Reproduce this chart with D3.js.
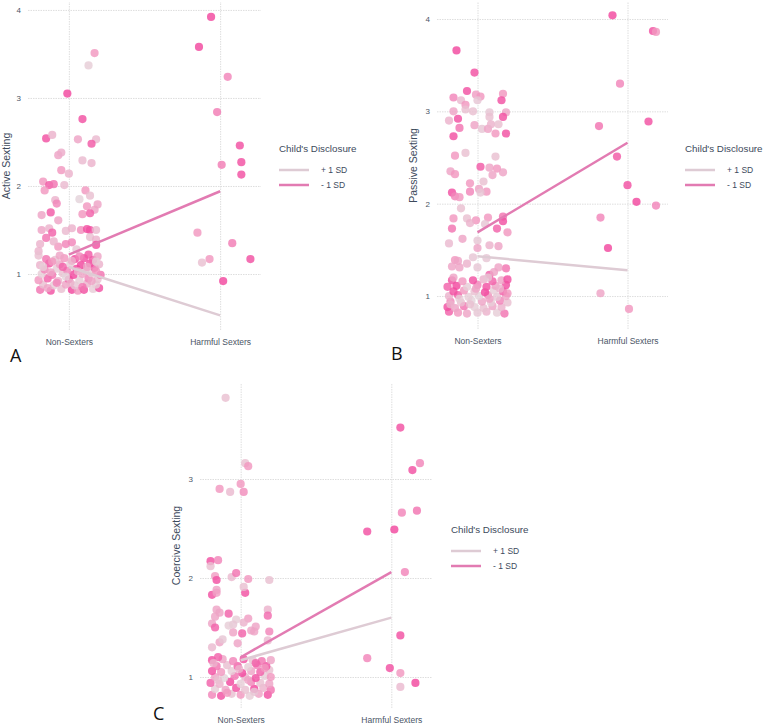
<!DOCTYPE html>
<html>
<head>
<meta charset="utf-8">
<script src="https://cdn.jsdelivr.net/npm/d3@7"></script>
<style>
  body { margin: 0; background: #fff; }
  text { font-family: "Liberation Sans", Arial, sans-serif; }
</style>
</head>
<body>
<div id="chart"></div>
<script>
// categories and labels
var categories = ["Non-Sexters", "Harmful Sexters"];
var ticksAB = [1, 2, 3, 4];
var ticksC = [1, 2, 3];
var legendLabels = ["+ 1 SD", "- 1 SD"];
var legendTitle = "Child's Disclosure";

// points: [jitter, score, disclosure (0 = low / pink, 1 = high / light)]
var activeNS = [
  [0.17,3.51,0.5],[0.13,3.37,0.9],[-0.01,3.05,0.05],[0.09,2.76,0.1],[-0.15,2.54,0.1],[-0.11,2.58,0.7],
  [0.06,2.53,0.6],[0.18,2.53,0.75],[0.15,2.48,0.15],[-0.07,2.35,0.6],[-0.05,2.38,0.65],[0.09,2.29,0.75],
  [0.15,2.26,0.7],[-0.05,2.18,0.5],[0.0,2.14,0.7],[-0.17,2.05,0.5],[-0.13,2.01,0.15],[-0.1,2.02,0.3],
  [-0.03,2.01,0.75],[-0.16,1.95,0.5],[0.11,1.95,0.5],[0.14,1.89,0.8],[0.07,1.85,0.95],[-0.09,1.84,0.7],
  [-0.08,1.8,0.4],[0.19,1.79,0.6],[0.12,1.77,0.5],[0.17,1.73,0.6],[-0.12,1.7,0.15],[-0.18,1.67,0.6],
  [0.09,1.68,0.5],[0.14,1.69,0.2],[-0.07,1.61,0.6],[-0.18,1.5,0.6],[-0.13,1.52,0.7],[-0.11,1.47,0.2],
  [-0.02,1.49,0.75],[0.02,1.52,0.7],[0.08,1.5,0.45],[0.12,1.51,0.1],[0.14,1.5,0.1],[0.18,1.5,0.75],
  [0.14,1.42,0.8],[-0.15,1.41,0.3],[0.18,1.39,0.7],[-0.19,1.34,0.7],[-0.02,1.34,0.4],[0.02,1.36,0.4],
  [-0.07,1.31,0.5],[0.18,1.33,0.1],[-0.1,1.37,0.7],[-0.2,1.26,0.7],[0.05,1.28,0.85],
  [-0.19,0.82,0.3],[-0.12,0.81,0.1],[-0.05,0.83,0.8],[0.02,0.82,0.05],[0.06,0.81,0.5],[0.1,0.82,0.1],
  [0.16,0.83,0.9],[0.2,0.84,0.1],[-0.17,0.88,0.8],[-0.1,0.87,0.9],[-0.02,0.88,0.6],[0.04,0.87,0.85],
  [0.12,0.89,0.7],[0.18,0.88,0.9],[-0.2,0.93,0.5],[-0.14,0.95,0.2],[-0.07,0.92,0.7],[0.0,0.94,0.1],
  [0.07,0.93,0.9],[0.13,0.95,0.4],[0.19,0.94,0.8],[-0.18,1.0,0.9],[-0.11,0.99,0.3],[-0.04,1.01,0.8],
  [0.03,0.99,0.05],[0.09,1.0,0.6],[0.15,1.01,0.9],[0.21,0.99,0.3],[-0.16,1.05,0.4],[-0.08,1.06,0.9],
  [-0.01,1.04,0.4],[0.05,1.06,0.1],[0.11,1.05,0.85],[0.17,1.07,0.2],[-0.19,1.1,0.7],[-0.13,1.12,0.1],
  [-0.06,1.11,0.6],[0.01,1.12,0.9],[0.08,1.1,0.05],[0.14,1.12,0.1],[0.2,1.11,0.7],[-0.15,1.17,0.3],
  [-0.09,1.16,0.8],[-0.03,1.18,0.5],[0.04,1.17,0.05],[0.1,1.18,0.1],[0.16,1.16,0.2],[-0.2,1.21,0.8],
  [-0.06,1.21,0.6],[0.07,1.2,0.4],[0.13,1.22,0.15],[0.19,1.2,0.6],[-0.14,0.84,0.6],[-0.08,0.9,0.4],
  [0.01,0.9,0.7],[0.09,0.85,0.3],[0.15,0.92,0.6],[-0.12,1.02,0.6],[-0.02,0.97,0.95],[0.06,1.03,0.7],
  [0.18,1.03,0.5],[-0.17,1.08,0.9],[-0.04,1.08,0.2],[0.12,1.08,0.6],[-0.11,1.14,0.5],[0.02,1.15,0.7],
  [0.18,1.14,0.9]
];
var activeHS = [
  [-0.06,3.92,0.05],[-0.14,3.58,0.05],[0.05,3.24,0.4],[-0.02,2.84,0.35],[0.13,2.46,0.1],[0.01,2.24,0.35],
  [0.14,2.27,0.1],[0.14,2.13,0.1],[-0.15,1.47,0.5],[0.08,1.35,0.35],[-0.07,1.17,0.5],[-0.12,1.13,0.8],
  [0.2,1.17,0.1],[0.02,0.92,0.05]
];
var passiveNS = [
  [-0.14,3.66,0.05],[-0.02,3.42,0.1],[-0.07,3.22,0.1],[-0.16,3.15,0.4],[-0.11,3.12,0.75],[-0.01,3.18,0.55],
  [0.02,3.16,0.5],[0.0,3.12,0.85],[0.17,3.19,0.5],[0.16,3.12,0.1],[-0.08,3.07,0.5],[-0.08,3.02,0.8],
  [-0.16,3.0,0.6],[-0.03,3.0,0.8],[0.08,2.99,0.85],[0.19,2.99,0.6],[-0.19,2.9,0.7],[-0.13,2.92,0.1],
  [0.08,2.94,0.8],[0.17,2.94,0.1],[-0.02,2.85,0.6],[-0.12,2.82,0.3],[0.03,2.81,0.85],[0.07,2.81,0.6],
  [0.09,2.86,0.7],[0.14,2.86,0.8],[0.12,2.76,0.5],[0.19,2.76,0.1],[-0.16,2.73,0.1],[-0.15,2.52,0.5],
  [-0.08,2.55,0.8],[0.12,2.51,0.8],[0.02,2.4,0.15],[-0.18,2.35,0.6],[-0.15,2.32,0.5],[0.08,2.39,0.6],
  [0.13,2.38,0.5],[0.1,2.31,0.6],[0.17,2.34,0.6],[0.04,2.24,0.8],[-0.05,2.22,0.5],[-0.17,2.12,0.1],
  [-0.05,2.13,0.4],[0.01,2.16,0.6],[0.06,2.13,0.5],[0.02,2.12,0.85],[-0.15,2.08,0.4],[-0.12,2.07,0.5],
  [-0.11,1.95,0.8],[-0.16,1.84,0.5],[-0.07,1.84,0.8],[-0.01,1.82,0.5],[0.07,1.85,0.5],[0.17,1.86,0.3],
  [0.17,1.81,0.1],[-0.17,1.73,0.3],[0.13,1.73,0.2],[0.2,1.69,0.5],[-0.05,1.79,0.7],[0.05,1.78,0.85],
  [-0.19,1.57,0.75],[-0.1,1.62,0.6],[0.0,1.6,0.85],[0.08,1.55,0.7],[0.14,1.54,0.6],[0.0,1.52,0.6],
  [-0.15,1.39,0.5],[-0.13,1.38,0.6],[-0.03,1.42,0.85],[0.06,1.41,0.85],[0.19,1.3,0.3],[-0.17,1.32,0.6],
  [-0.12,1.31,0.6],[0.0,1.31,0.85],[-0.07,1.35,0.7],[0.14,1.31,0.6],[0.08,1.23,0.2],[0.11,1.26,0.6],
  [-0.19,0.83,0.2],[-0.13,0.82,0.5],[-0.07,0.81,0.6],[0.0,0.82,0.85],[0.06,0.83,0.7],[0.13,0.82,0.9],
  [0.18,0.81,0.3],[-0.2,0.88,0.1],[-0.15,0.87,0.6],[-0.09,0.89,0.3],[-0.02,0.88,0.9],[0.04,0.87,0.8],
  [0.1,0.89,0.6],[0.16,0.88,0.7],[-0.18,0.94,0.4],[-0.11,0.93,0.8],[-0.04,0.95,0.95],[0.03,0.94,0.6],
  [0.09,0.93,0.9],[0.15,0.95,0.4],[0.2,0.93,0.8],[-0.19,1.0,0.7],[-0.13,1.01,0.2],[-0.06,0.99,0.9],
  [0.01,1.0,0.95],[0.07,1.01,0.5],[0.13,0.99,0.85],[0.19,1.0,0.6],[-0.16,1.05,0.1],[-0.09,1.06,0.5],
  [-0.02,1.05,0.8],[0.05,1.04,0.05],[0.11,1.06,0.9],[0.17,1.05,0.2],[-0.2,1.1,0.2],[-0.14,1.11,0.05],
  [-0.07,1.1,0.9],[0.0,1.12,0.4],[0.06,1.1,0.1],[0.12,1.11,0.6],[0.19,1.12,0.1],[-0.17,1.17,0.1],
  [-0.1,1.16,0.5],[-0.03,1.17,0.1],[0.04,1.18,0.7],[0.1,1.16,0.2],[0.16,1.17,0.6],[0.2,1.18,0.1],
  [-0.18,0.91,0.7],[-0.05,0.91,0.8],[0.08,0.97,0.6],[-0.12,0.97,0.9],[0.15,1.08,0.7],[-0.01,1.08,0.6],
  [0.2,1.03,0.5],[-0.16,1.2,0.6],[0.07,1.2,0.85]
];
var passiveHS = [
  [-0.1,4.04,0.05],[0.17,3.87,0.1],[0.19,3.86,0.5],[-0.05,3.3,0.4],[-0.19,2.84,0.3],[0.14,2.89,0.1],
  [-0.07,2.51,0.15],[0.0,2.2,0.1],[0.06,2.02,0.05],[0.19,1.98,0.4],[-0.18,1.85,0.4],[-0.13,1.52,0.05],
  [-0.18,1.03,0.6],[0.01,0.86,0.5]
];
var coerciveNS = [
  [-0.1,3.82,0.8],[0.03,3.16,0.8],[0.05,3.13,0.5],[-0.14,2.9,0.5],[0.0,2.95,0.5],[-0.07,2.87,0.75],
  [0.02,2.87,0.45],[-0.2,2.17,0.1],[-0.15,2.18,0.4],[-0.2,2.12,0.8],[-0.17,2.02,0.55],[-0.16,1.98,0.1],
  [-0.06,2.01,0.75],[-0.03,2.05,0.3],[0.05,1.99,0.5],[0.19,1.98,0.8],[-0.19,1.83,0.1],[-0.16,1.88,0.6],
  [-0.16,1.85,0.55],[0.03,1.85,0.1],[0.02,1.91,0.8],[-0.16,1.68,0.6],[-0.14,1.65,0.6],[-0.08,1.64,0.2],
  [-0.17,1.61,0.6],[0.18,1.68,0.7],[0.18,1.62,0.25],[0.05,1.59,0.55],[-0.03,1.58,0.9],[-0.19,1.54,0.6],
  [-0.17,1.5,0.2],[-0.05,1.53,0.85],[0.02,1.55,0.7],[0.07,1.47,0.6],[0.1,1.51,0.6],[0.09,1.46,0.6],
  [-0.05,1.45,0.6],[0.19,1.46,0.4],[0.01,1.44,0.2],[-0.14,1.35,0.6],[-0.02,1.34,0.6],[0.18,1.37,0.75],
  [-0.19,1.3,0.75],[-0.12,1.38,0.85],[-0.08,1.52,0.9],
  [-0.19,0.82,0.4],[-0.13,0.81,0.1],[-0.06,0.83,0.8],[0.0,0.82,0.5],[0.06,0.81,0.9],[0.12,0.83,0.6],
  [0.18,0.82,0.1],[-0.17,0.88,0.9],[-0.1,0.87,0.6],[-0.03,0.89,0.1],[0.03,0.87,0.8],[0.09,0.88,0.05],
  [0.15,0.89,0.7],[0.2,0.87,0.3],[-0.2,0.94,0.2],[-0.14,0.93,0.7],[-0.07,0.95,0.05],[0.0,0.93,0.9],
  [0.07,0.95,0.4],[0.13,0.94,0.8],[0.19,0.93,0.6],[-0.17,1.0,0.6],[-0.11,0.99,0.95],[-0.04,1.01,0.3],
  [0.03,1.0,0.7],[0.1,0.99,0.1],[0.16,1.01,0.9],[-0.19,1.06,0.1],[-0.13,1.05,0.5],[-0.06,1.06,0.9],
  [0.01,1.04,0.05],[0.07,1.06,0.6],[0.13,1.05,0.2],[0.19,1.07,0.8],[-0.16,1.11,0.3],[-0.09,1.12,0.8],
  [-0.02,1.11,0.2],[0.05,1.1,0.9],[0.11,1.12,0.4],[0.17,1.11,0.1],[-0.19,1.17,0.1],[-0.12,1.18,0.6],
  [-0.05,1.16,0.4],[0.02,1.18,0.1],[0.08,1.17,0.8],[0.14,1.16,0.3],[0.2,1.17,0.6],[-0.15,1.2,0.2],
  [-0.09,0.84,0.5],[0.09,0.85,0.85],[-0.15,0.97,0.8],[0.05,0.97,0.6],[-0.01,1.08,0.7],[0.16,1.09,0.5],
  [-0.18,1.14,0.7],[0.1,1.14,0.2],[0.2,1.0,0.5]
];
var coerciveHS = [
  [0.06,3.52,0.1],[0.14,3.09,0.1],[0.19,3.16,0.4],[0.07,2.66,0.4],[0.17,2.68,0.3],[0.02,2.49,0.05],
  [-0.16,2.47,0.1],[0.09,2.06,0.4],[0.06,1.42,0.1],[-0.16,1.19,0.4],[-0.01,1.09,0.1],[0.06,1.04,0.5],
  [0.06,0.9,0.75],[0.16,0.94,0.05]
];

// simple slopes at +1 SD and -1 SD disclosure: [Non-Sexters, Harmful Sexters]
var activePlus = [1.08, 0.53], activeMinus = [1.22, 1.94];
var passivePlus = [1.43, 1.28], passiveMinus = [1.69, 2.66];
var coercivePlus = [1.17, 1.60], coerciveMinus = [1.20, 2.06];

var svg = d3.select("#chart").append("svg")
    .attr("width", 767)
    .attr("height", 727);

var pointColor = d3.scaleLinear().domain([0, 0.5, 1])
    .range(["#f23f9b", "#f197c0", "#e3dadd"]);
var lineColors = ["#decbd4", "#e27bb2"];

function drawPanel(p) {
    var x = d3.scaleLinear().domain([-0.27, 1.27]).range([p.x0, p.x1]);
    var y = d3.scaleLinear().domain(p.yDomain).range([p.y1, p.y0]);
    var g = svg.append("g");

    // grid
    g.append("g").attr("transform", "translate(" + p.x0 + ",0)")
        .call(d3.axisLeft(y).tickValues(p.ticks).tickSize(-(p.x1 - p.x0)).tickFormat(""))
        .call(function(a) { a.select(".domain").remove(); })
        .selectAll("line").attr("stroke", "#dedede").attr("stroke-dasharray", "1.5,1");
    g.append("g").attr("transform", "translate(0," + p.y1 + ")")
        .call(d3.axisBottom(x).tickValues([0, 1]).tickSize(-(p.y1 - p.y0)).tickFormat(""))
        .call(function(a) { a.select(".domain").remove(); })
        .selectAll("line").attr("stroke", "#dedede").attr("stroke-dasharray", "1.5,1");

    // tick labels
    var ya = g.append("g").attr("transform", "translate(" + (p.x0 - 4) + ",0)")
        .call(d3.axisLeft(y).tickValues(p.ticks).tickSize(0).tickFormat(d3.format("d")));
    ya.select(".domain").remove();
    ya.selectAll("text").attr("fill", "#4a5566").style("font-size", "8px");

    var xa = g.append("g").attr("transform", "translate(0," + (p.y1 + 6) + ")")
        .call(d3.axisBottom(x).tickValues([0, 1]).tickSize(0).tickFormat(function(d) { return categories[d]; }));
    xa.select(".domain").remove();
    xa.selectAll("text").attr("fill", "#4a5566").style("font-size", "8.5px");

    // points
    var pts = p.ns.map(function(d) { return [d[0], d[1], d[2]]; })
        .concat(p.hs.map(function(d) { return [1 + d[0], d[1], d[2]]; }));
    g.append("g").selectAll("circle")
        .data(pts)
        .enter()
        .append("circle")
        .attr("cx", function(d) { return x(d[0]); })
        .attr("cy", function(d) { return y(d[1]); })
        .attr("r", 4.1)
        .attr("fill", function(d) { return pointColor(d[2]); })
        .attr("fill-opacity", 0.82);

    // slope lines
    var line = d3.line()
        .x(function(d, i) { return x(i); })
        .y(function(d) { return y(d); });
    [p.plus, p.minus].forEach(function(s, i) {
        g.append("path")
            .attr("d", line(s))
            .attr("fill", "none")
            .attr("stroke", lineColors[i])
            .attr("stroke-width", 2.5);
    });

    // axis title
    g.append("text")
        .attr("transform", "translate(" + p.titleX + "," + ((p.y0 + p.y1) / 2) + ") rotate(-90)")
        .attr("text-anchor", "middle")
        .attr("fill", "#3d4a5c")
        .style("font-size", "10.5px")
        .text(p.title);

    // legend
    var lg = g.append("g").attr("transform", "translate(" + p.lx + "," + p.ly + ")");
    lg.append("text")
        .attr("x", 0).attr("y", 0)
        .attr("fill", "#3d4a5c")
        .style("font-size", "9.8px")
        .text(legendTitle);
    legendLabels.forEach(function(l, i) {
        lg.append("line")
            .attr("x1", 0).attr("x2", 30)
            .attr("y1", 18 + i * 15).attr("y2", 18 + i * 15)
            .attr("stroke", lineColors[i])
            .attr("stroke-width", 2.5);
        lg.append("text")
            .attr("x", 42).attr("y", 21 + i * 15)
            .attr("fill", "#3d4a5c")
            .style("font-size", "8.5px")
            .text(l);
    });

    // panel letter
    g.append("text")
        .attr("x", p.letterX).attr("y", p.letterY)
        .attr("fill", "#111")
        .style("font-family", "'Open Sans', sans-serif")
        .style("font-size", "18px")
        .text(p.letter);
}

drawPanel({
    x0: 28, x1: 261, y0: 2, y1: 330, yDomain: [0.364, 4.09], ticks: ticksAB,
    ns: activeNS, hs: activeHS, plus: activePlus, minus: activeMinus,
    title: "Active Sexting", titleX: 10, lx: 279, ly: 152,
    letter: "A", letterX: 10, letterY: 362
});
drawPanel({
    x0: 437, x1: 668, y0: 2, y1: 329, yDomain: [0.643, 4.184], ticks: ticksAB,
    ns: passiveNS, hs: passiveHS, plus: passivePlus, minus: passiveMinus,
    title: "Passive Sexting", titleX: 417, lx: 685, ly: 152,
    letter: "B", letterX: 391, letterY: 360
});
drawPanel({
    x0: 200, x1: 432, y0: 383, y1: 708, yDomain: [0.687, 3.97], ticks: ticksC,
    ns: coerciveNS, hs: coerciveHS, plus: coercivePlus, minus: coerciveMinus,
    title: "Coercive Sexting", titleX: 180, lx: 451, ly: 533,
    letter: "C", letterX: 153, letterY: 720
});
</script>
</body>
</html>
